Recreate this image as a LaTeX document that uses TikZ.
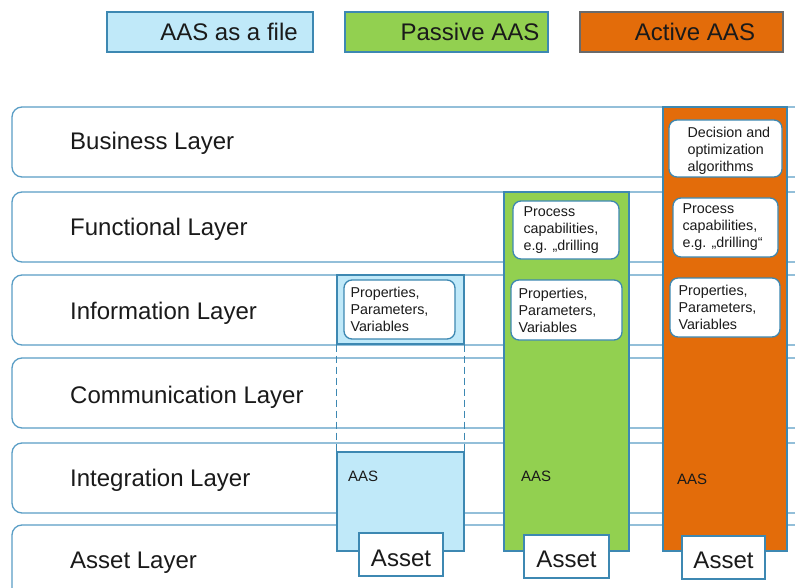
\documentclass[tikz,border=0pt]{standalone}
\usepackage{fontspec}
\setmainfont{Liberation Sans}
\begin{document}
\begin{tikzpicture}[x=1pt,y=-1pt,
  rowbox/.style={draw=rowline, line width=1.3pt, rounded corners=10pt, fill=white, inner sep=0pt},
  layerlabel/.style={anchor=base west, inner sep=0pt, text=txt, font=\fontsize{24}{28}\selectfont},
  legendbox/.style={draw=#1, line width=1.3pt, inner sep=0pt, minimum height=40pt},
  colbox/.style={draw=colline, line width=1.3pt, fill=#1, inner sep=0pt},
  ibox/.style={draw=colline, line width=1.3pt, fill=white, rounded corners=8pt, inner sep=0pt},
  itext/.style={anchor=west, inner sep=0pt, align=left, text=txt, font=\fontsize{14.3}{17}\selectfont},
  aastext/.style={anchor=west, inner sep=0pt, text=txt, font=\fontsize{15}{18}\selectfont},
  assetbox/.style={draw=colline, line width=1.3pt, fill=white, inner sep=0pt, minimum height=43pt},
  assettext/.style={anchor=base, inner sep=0pt, text=txt, font=\fontsize{24}{28}\selectfont},
]
\definecolor{rowline}{HTML}{5A9EC6}
\definecolor{colline}{HTML}{3D88B2}
\definecolor{txt}{HTML}{1A1A1A}
\definecolor{filefill}{HTML}{C0E9F9}
\definecolor{passfill}{HTML}{92D050}
\definecolor{actfill}{HTML}{E36C0A}
\definecolor{actline}{HTML}{6A6A6A}

\useasboundingbox (0,0) rectangle (795,588);
\clip (0,0) rectangle (795,588);
\fill[white] (0,0) rectangle (795,588);

% legend
\node[legendbox=colline, fill=filefill, minimum width=206pt] (lfile) at (210,32) {};
\node[legendbox=colline, fill=passfill, minimum width=203pt] (lpass) at (446.5,32) {};
\node[legendbox=actline, fill=actfill, minimum width=203pt] (lact) at (681.5,32) {};
\node[layerlabel, anchor=base] (tfile) at (229,40.5) {AAS as a file};
\node[layerlabel, anchor=base] (tpass) at (470,40.5) {Passive AAS};
\node[layerlabel, anchor=base] (tact) at (695,40.5) {Active AAS};

% layer rows
\node[rowbox, minimum width=820pt, minimum height=70pt] (rbus) at (422,142) {};
\node[rowbox, minimum width=820pt, minimum height=70pt] (rfun) at (422,227) {};
\node[rowbox, minimum width=820pt, minimum height=70pt] (rinf) at (422,310) {};
\node[rowbox, minimum width=820pt, minimum height=70pt] (rcom) at (422,393) {};
\node[rowbox, minimum width=820pt, minimum height=70pt] (rint) at (422,478) {};
\node[rowbox, minimum width=820pt, minimum height=90pt] (rass) at (422,570) {};

\node[layerlabel] (lbus) at (70,150) {Business Layer};
\node[layerlabel] (lfun) at (70,236) {Functional Layer};
\node[layerlabel] (linf) at (70,319) {Information Layer};
\node[layerlabel] (lcom) at (70,403) {Communication Layer};
\node[layerlabel] (lint) at (70,486) {Integration Layer};
\node[layerlabel] (lass) at (70,568) {Asset Layer};

% AAS as a file
\node[colbox=filefill, minimum width=127pt, minimum height=69pt] (binfo) at (400.5,309.5) {};
\node[colbox=filefill, minimum width=127pt, minimum height=99pt] (baas) at (400.5,501.5) {};
\draw[colline, line width=1.1pt, dash pattern=on 7pt off 4pt] (binfo.south west) -- (baas.north west);
\draw[colline, line width=1.1pt, dash pattern=on 7pt off 4pt] (binfo.south east) -- (baas.north east);
\node[ibox, minimum width=111pt, minimum height=59pt] (bprop) at (399.5,309.5) {};
\node[itext] (bpropt) at ([xshift=7pt]bprop.west) {Properties,\\Parameters,\\Variables};
\node[aastext] (baast) at (348,476) {AAS};
\node[assetbox, minimum width=84pt] (basset) at (401,554.5) {};
\node[assettext] (bassett) at ([yshift=-12pt]basset.center) {Asset};

% Passive AAS
\node[colbox=passfill, minimum width=125pt, minimum height=359pt] (gcol) at (566.5,371.5) {};
\node[ibox, minimum width=106pt, minimum height=58pt] (gproc) at (566,230) {};
\node[itext] (gproct) at ([xshift=11pt]gproc.west) {Process\\capabilities,\\e.g. „drilling};
\node[ibox, minimum width=111pt, minimum height=60pt] (gprop) at (566.5,310) {};
\node[itext] (gpropt) at ([xshift=8pt]gprop.west) {Properties,\\Parameters,\\Variables};
\node[aastext] (gaast) at (521,476) {AAS};
\node[assetbox, minimum width=85pt] (gasset) at (566.5,556.5) {};
\node[assettext] (gassett) at ([yshift=-11pt]gasset.center) {Asset};

% Active AAS
\node[colbox=actfill, minimum width=124pt, minimum height=444pt] (ocol) at (725,329) {};
\node[ibox, minimum width=113pt, minimum height=57pt] (odec) at (725.5,148.5) {};
\node[itext] (odect) at ([xshift=19pt,yshift=-2pt]odec.west) {Decision and\\optimization\\algorithms};
\node[ibox, minimum width=105pt, minimum height=59pt] (oproc) at (725.5,227.5) {};
\node[itext] (oproct) at ([xshift=10pt]oproc.west) {Process\\capabilities,\\e.g. „drilling“};
\node[ibox, minimum width=110pt, minimum height=59pt] (oprop) at (725,307.5) {};
\node[itext] (opropt) at ([xshift=9pt]oprop.west) {Properties,\\Parameters,\\Variables};
\node[aastext] (oaast) at (677,479) {AAS};
\node[assetbox, minimum width=83pt] (oasset) at (723.5,557.5) {};
\node[assettext] (oassett) at ([yshift=-11pt]oasset.center) {Asset};
\end{tikzpicture}
\end{document}
